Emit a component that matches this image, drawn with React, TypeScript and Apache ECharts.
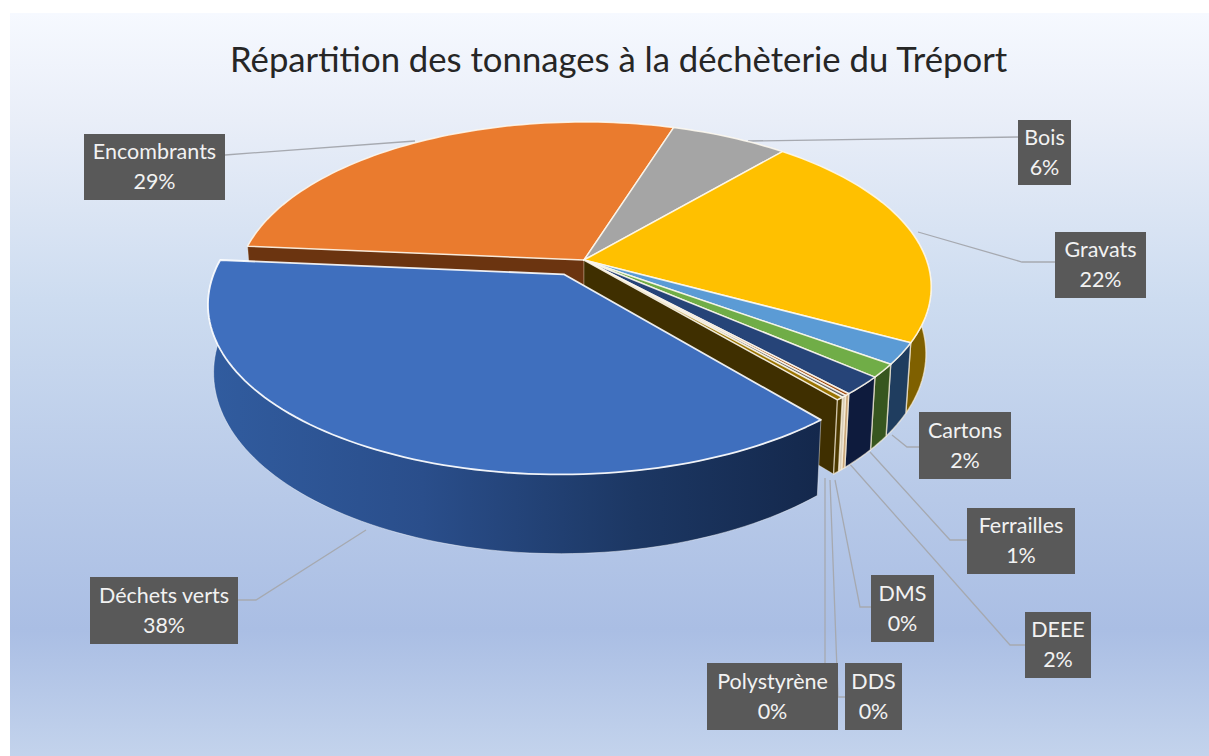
import React, { useEffect, useRef } from "react";
import * as echarts from "echarts";

const titleText = "Répartition des tonnages à la déchèterie du Tréport";
const categories = ["Encombrants", "Bois", "Gravats", "Cartons", "Ferrailles", "DEEE", "DMS", "DDS", "Polystyrène", "Déchets verts"];
const shares = [28.5, 6.4, 21.6, 2.1, 1.3, 1.8, 0.2, 0.2, 0.3, 37.6];
const topColors = ["#EA7B2E", "#A5A5A5", "#FFC000", "#5B9BD5", "#70AD47", "#264478", "#9E480E", "#636363", "#997300", "#3F6FBE"];
const wallColors = ["#6B3410", "#555555", "#7F6000", "#1F3D5F", "#37561F", "#0E1B3D", "#C9A77A", "#D8CDB8", "#4D3A00", "#1D3A6B"];

// layout: label boxes [x, y, w, h]
const labelBoxes = [
  [84, 134, 141, 66], [1018, 120, 53, 65], [1055, 232, 91, 66], [919, 412, 92, 67], [967, 508, 108, 66],
  [1025, 612, 66, 66], [871, 575, 63, 67], [845, 663, 57, 67], [707, 663, 131, 67], [90, 577, 148, 67],
];
// layout: leader lines
const leaders = [
  [[225, 155], [415, 141]],
  [[1018, 137], [748, 141]],
  [[1055, 262], [1022, 262], [918, 232]],
  [[919, 447], [907, 447], [892, 435]],
  [[967, 540], [950, 540], [870, 452]],
  [[1025, 645], [1010, 645], [848, 462]],
  [[871, 607], [860, 607], [835, 480]],
  [[845, 697], [838, 697], [830, 480]],
  [[825, 663], [825, 478]],
  [[238, 600], [256, 600], [366, 530]],
];

const START_DEG = 275;
const AX = 584, AY = 260, A = 342.5, B = 160.6, K = 0.1636, H = 65, LOW_SCALE = 0.985;
const EXPLODE_U = -0.058, EXPLODE_V = -0.088, EXPLODE_SCALE = 1.008;
const WALL_FROM = 60, WALL_TO = 275;
const FONT = "Lato, 'Open Sans', sans-serif";

function proj(u: number, v: number, lower: boolean): number[] {
  const d = 1 + K * v;
  const s = lower ? LOW_SCALE : 1;
  return [AX + (A * s * u) / d, AY - (B * v) / d + (lower ? H / d : 0)];
}

function arc(a0: number, a1: number, ou: number, ov: number, r: number, lower: boolean): number[][] {
  const pts: number[][] = [];
  const n = Math.max(2, Math.ceil((a1 - a0) / 1.5));
  for (let i = 0; i <= n; i++) {
    const t = ((a0 + ((a1 - a0) * i) / n) * Math.PI) / 180;
    pts.push(proj(ou + r * Math.sin(t), ov + r * Math.cos(t), lower));
  }
  return pts;
}

function sliceAngles(index: number): number[] {
  let before = 0;
  for (let i = 0; i < index; i++) before += shares[i];
  const total = shares.reduce((a, b) => a + b, 0);
  const a0 = START_DEG + (before / total) * 360;
  return [a0, a0 + (shares[index] / total) * 360];
}

function renderSlice(_params: any, api: any) {
  const i = api.value(0) as number;
  const [a0, a1] = sliceAngles(i);
  const exploded = i === categories.length - 1;
  const ou = exploded ? EXPLODE_U : 0;
  const ov = exploded ? EXPLODE_V : 0;
  const rr = exploded ? EXPLODE_SCALE : 1;
  const children: any[] = [];
  const poly = (points: number[][], fill: any, stroke: string, lineWidth: number) => ({
    type: "polygon",
    shape: { points },
    style: { fill, stroke, lineWidth, lineJoin: "round" },
  });

  const cut = (deg: number, fill: string) => {
    const r = (deg * Math.PI) / 180;
    const u = Math.sin(r), v = Math.cos(r);
    children.push(poly([proj(0, 0, false), proj(u, v, false), proj(u, v, true), proj(0, 0, true)], fill, "rgba(255,240,220,0.5)", 0.6));
  };
  if (i === 0) cut(a0, wallColors[0]);
  if (i === categories.length - 2) cut(a1, "#3F2F00");

  // outer wall, front part only (angles normalised to 0..360)
  const shift = a0 >= 360 ? 360 : 0;
  const fa0 = Math.max(a0 - shift, WALL_FROM), fa1 = Math.min(a1 - shift, WALL_TO);
  if (fa1 > fa0) {
    const upper = arc(fa0, fa1, ou, ov, rr, false);
    const lower = arc(fa0, fa1, ou, ov, rr, true).reverse();
    const fill = exploded
      ? {
          type: "linear", x: 0, y: 0, x2: 1, y2: 0,
          colorStops: [
            { offset: 0, color: "#315C9F" },
            { offset: 0.35, color: "#2A4E8B" },
            { offset: 0.7, color: "#1C3763" },
            { offset: 1, color: "#14284C" },
          ],
        }
      : wallColors[i];
    children.push(poly(upper.concat(lower), fill, exploded ? "rgba(255,255,255,0.55)" : "rgba(255,245,225,0.65)", exploded ? 0.8 : 1.4));
  }

  // top face
  const top = [proj(ou, ov, false)].concat(arc(a0, a1, ou, ov, rr, false));
  children.push(poly(top, topColors[i], exploded ? "rgba(255,255,255,0.9)" : "rgba(255,250,240,0.85)", exploded ? 1.8 : 1.5));
  return { type: "group", children };
}

function renderLeader(_params: any, api: any) {
  const i = api.value(0) as number;
  return {
    type: "polyline",
    shape: { points: leaders[i] },
    style: { fill: "none", stroke: "#A6A9B0", lineWidth: 1.3 },
  };
}

function renderLabel(_params: any, api: any) {
  const i = api.value(0) as number;
  const [x, y, w, h] = labelBoxes[i];
  const [a0, a1] = sliceAngles(i);
  const pct = Math.round(((a1 - a0) / 360) * 100);
  return {
    type: "group",
    children: [
      { type: "rect", shape: { x, y, width: w, height: h }, style: { fill: "#595959" } },
      {
        type: "text",
        style: {
          x: x + w / 2, y: y + h / 2 - 1,
          text: `${categories[i]}\n${pct}%`,
          fill: "#F2F2F2", font: `21.5px ${FONT}`, lineHeight: 30,
          align: "center", verticalAlign: "middle",
        },
      },
    ],
  };
}

export default function App() {
  const ref = useRef<HTMLDivElement>(null);
  useEffect(() => {
    const chart = echarts.init(ref.current!, undefined, { renderer: "svg" });
    const idx = categories.map((_, i) => [i]);
    chart.setOption({
      animation: false,
      backgroundColor: "#ffffff",
      title: {
        text: titleText, left: 225, top: 36,
        textStyle: { fontFamily: FONT, fontSize: 34.7, fontWeight: 400, color: "#262626" },
      },
      graphic: [{
        type: "rect", z: -1,
        shape: { x: 10, y: 13, width: 1199, height: 743 },
        style: {
          fill: {
            type: "linear", x: 0, y: 0, x2: 0, y2: 1,
            colorStops: [
              { offset: 0, color: "#F6F9FF" },
              { offset: 0.144, color: "#E9EEF8" },
              { offset: 0.386, color: "#CDDCF0" },
              { offset: 0.655, color: "#B7C9E8" },
              { offset: 0.83, color: "#AABEE4" },
              { offset: 1, color: "#C3D3EC" },
            ],
          },
        },
      }],
      series: [
        { type: "custom", coordinateSystem: "none", data: idx, renderItem: renderLeader, silent: true, z: 1 },
        { type: "custom", coordinateSystem: "none", data: idx, renderItem: renderSlice, silent: true, z: 2 },
        { type: "custom", coordinateSystem: "none", data: idx, renderItem: renderLabel, silent: true, z: 3 },
      ],
    });
    return () => chart.dispose();
  }, []);
  return <div ref={ref} style={{ position: "fixed", left: 0, top: 0, width: 1209, height: 756 }} />;
}
